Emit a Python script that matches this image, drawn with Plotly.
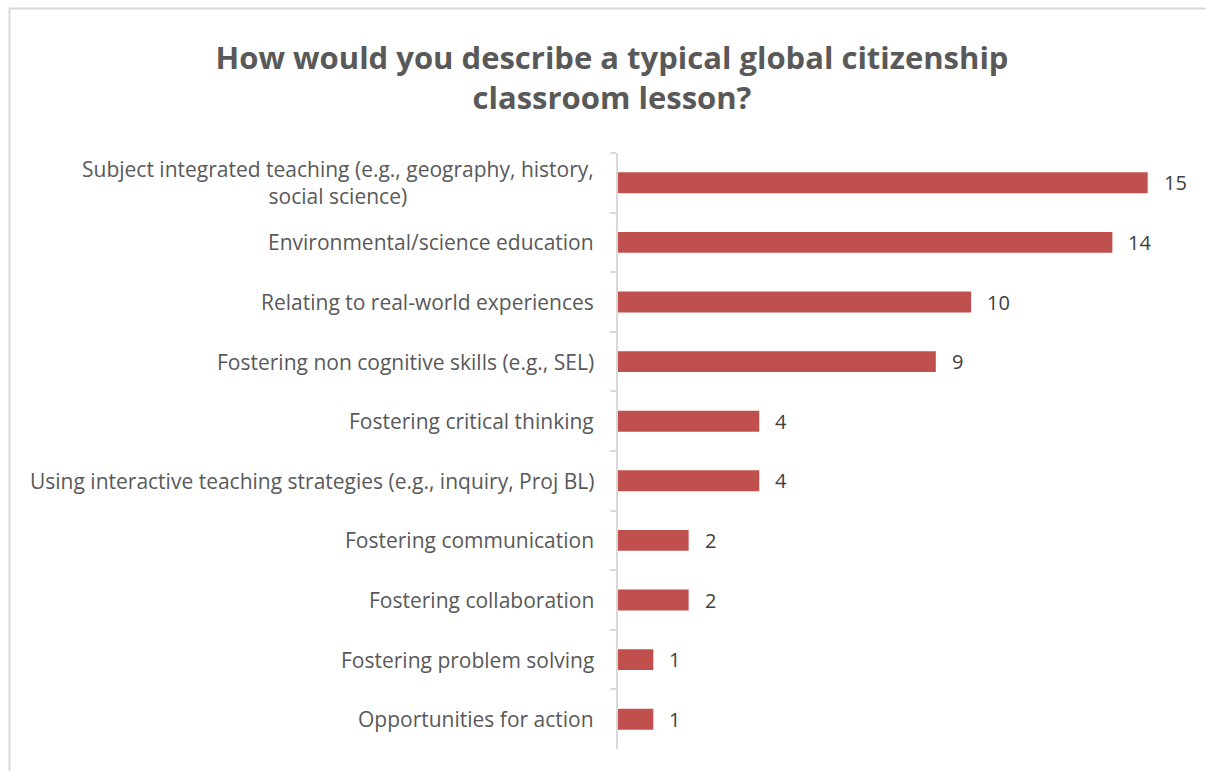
import plotly.graph_objects as go

# Survey responses, listed top to bottom
categories = [
    "Subject integrated teaching (e.g., geography, history,<br>social science)",
    "Environmental/science education",
    "Relating to real-world experiences",
    "Fostering non cognitive skills (e.g., SEL)",
    "Fostering critical thinking",
    "Using interactive teaching strategies (e.g., inquiry, Proj BL)",
    "Fostering communication",
    "Fostering collaboration",
    "Fostering problem solving",
    "Opportunities for action",
]
counts = [15, 14, 10, 9, 4, 4, 2, 2, 1, 1]
x_max = 16

W, H = 1206, 771
M_L, M_R, M_T, M_B = 618, 23, 153, 22
plot_w = W - M_L - M_R
plot_h = H - M_T - M_B

BAR = "#C0504D"
GRID = "#D9D9D9"
TXT = "#595959"
FONT = "'Open Sans', Lato, sans-serif"

fig = go.Figure(
    go.Bar(
        x=counts,
        y=categories,
        orientation="h",
        marker=dict(color=BAR, line=dict(width=0)),
        width=0.35,
        hoverinfo="x+y",
    )
)

# Category labels, centred within their block, right edge near the axis
for cat in categories:
    fig.add_annotation(
        x=0, xref="paper", xshift=-22,
        y=cat, yref="y",
        text=cat, showarrow=False,
        xanchor="right", yanchor="middle", align="center",
        font=dict(family=FONT, size=21, color=TXT),
    )

# Value labels beyond each bar
for cat, v in zip(categories, counts):
    fig.add_annotation(
        x=v, xref="x", y=cat, yref="y",
        text=str(v), showarrow=False,
        xanchor="left", yanchor="middle", xshift=14,
        font=dict(family=FONT, size=20, color="#404040"),
    )

# Chart-area border (right and bottom edges run past the page)
fig.add_shape(
    type="rect", xref="paper", yref="paper",
    x0=(9.5 - M_L) / plot_w, x1=(W + 20 - M_L) / plot_w,
    y0=-(20 + M_B) / plot_h, y1=(H - 8.5 - M_B) / plot_h,
    line=dict(color=GRID, width=2), fillcolor="rgba(0,0,0,0)", layer="below",
)

fig.update_layout(
    width=W, height=H,
    margin=dict(l=M_L, r=M_R, t=M_T, b=M_B, pad=0),
    paper_bgcolor="white", plot_bgcolor="white",
    showlegend=False,
    title=dict(
        text="How would you describe a typical global citizenship<br>classroom lesson?",
        x=612 / W, xanchor="center", xref="container",
        y=1 - 68.5 / H, yanchor="middle", yref="container",
        font=dict(family=FONT, size=31, color=TXT, weight="bold"),
    ),
    xaxis=dict(
        range=[0, x_max], showgrid=False, zeroline=False,
        showticklabels=False, showline=False, ticks="",
    ),
    yaxis=dict(
        categoryorder="array", categoryarray=categories,
        autorange="reversed", showgrid=False, zeroline=False,
        showticklabels=False, showline=True, linecolor=GRID, linewidth=2,
        ticks="outside", tickson="boundaries", ticklen=6,
        tickcolor=GRID, tickwidth=2,
    ),
)

fig.write_html("out.html")
